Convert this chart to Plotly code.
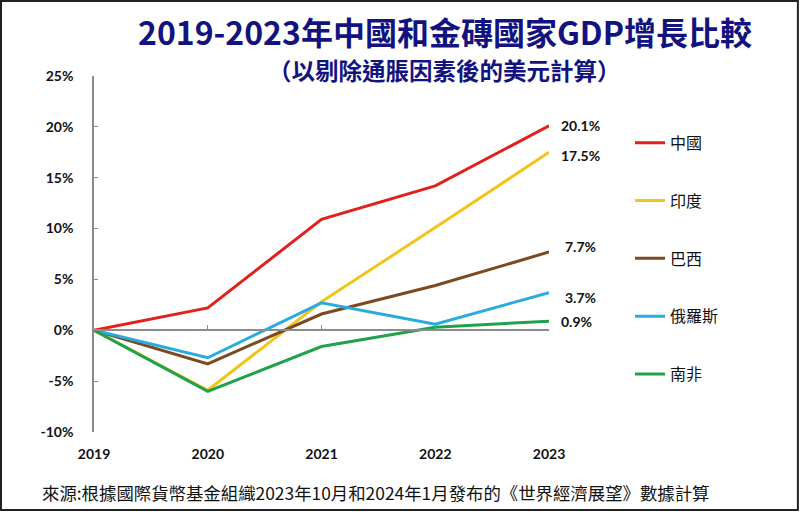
import plotly.graph_objects as go

# -------------------------------------------------
# data: cumulative real GDP growth vs 2019 (%)
# -------------------------------------------------
years = [2019, 2020, 2021, 2022, 2023]
countries = ["中國", "印度", "巴西", "俄羅斯", "南非"]
china = [0, 2.2, 10.9, 14.2, 20.1]
india = [0, -5.9, 2.8, 10.1, 17.5]
brazil = [0, -3.3, 1.6, 4.4, 7.7]
russia = [0, -2.7, 2.7, 0.6, 3.7]
south_africa = [0, -6.0, -1.6, 0.3, 0.9]

y_ticks = [-10, -5, 0, 5, 10, 15, 20, 25]
y_tick_labels = ["-10%", "-5%", "0%", "5%", "10%", "15%", "20%", "25%"]

title = "2019-2023年中國和金磚國家GDP增長比較"
subtitle = "（以剔除通脹因素後的美元計算）"
source = "來源:根據國際貨幣基金組織2023年10月和2024年1月發布的《世界經濟展望》數據計算"

series = [china, india, brazil, russia, south_africa]
colors = ["#e2201c", "#f3c419", "#7b4a20", "#29abe0", "#1fa24b"]
# label nudges (px) for the end-of-line values
label_shift = [(10, 0), (10, -3), (14, 5), (14, -5), (10, 0)]

cjk = "Noto Sans CJK TC"
latin = "Lato"

y_min, y_max = y_ticks[0], y_ticks[-1]

fig = go.Figure()

for name, vals, col in zip(countries, series, colors):
    fig.add_trace(go.Scatter(
        x=years, y=vals, name=name, mode="lines",
        line=dict(color=col, width=3),
        legendgroup=name,
    ))

# dummy trace so the zero-line axis gets drawn
fig.add_trace(go.Scatter(x=years, y=[None] * len(years), xaxis="x2",
                         showlegend=False, hoverinfo="skip"))

# end labels
for vals, (dx, dy) in zip(series, label_shift):
    fig.add_annotation(
        x=years[-1], y=vals[-1], text=f"{vals[-1]:.1f}%",
        showarrow=False, xanchor="left", yanchor="middle",
        xshift=dx, yshift=dy,
        font=dict(family=latin, size=14, color="#111", weight="bold"),
    )

# titles and source
fig.add_annotation(
    xref="paper", yref="paper", x=0.771, y=1.1264, text=title,
    showarrow=False, xanchor="center", yanchor="middle",
    font=dict(family=cjk, size=32, color="#13137f", weight="bold"),
)
fig.add_annotation(
    xref="paper", yref="paper", x=0.771, y=1.0169, text=subtitle,
    showarrow=False, xanchor="center", yanchor="middle",
    font=dict(family=cjk, size=23.5, color="#13137f", weight="bold"),
)
fig.add_annotation(
    xref="paper", yref="paper", x=-0.119, y=-0.171, text=source,
    showarrow=False, xanchor="left", yanchor="middle",
    font=dict(family=cjk, size=17.4, color="#111"),
)

# outer frame
fig.add_shape(type="rect", xref="paper", yref="paper",
              x0=-0.2044, x1=1.547, y0=-0.219, y1=1.2107,
              line=dict(color="#222", width=2), layer="above")

fig.update_layout(
    width=800, height=512,
    margin=dict(l=94, r=251, t=76, b=80),
    paper_bgcolor="white", plot_bgcolor="white",
    showlegend=True,
    legend=dict(
        x=1.178, y=0.86, xanchor="left", yanchor="top",
        font=dict(family=cjk, size=16, color="#111"),
        tracegroupgap=34, itemwidth=30,
        bgcolor="rgba(0,0,0,0)",
    ),
    xaxis=dict(
        range=[years[0], years[-1]], tickvals=years,
        showline=False, showgrid=False, zeroline=False, ticks="",
        ticklabelstandoff=12,
        tickfont=dict(family=latin, size=14, color="#111", weight="bold"),
    ),
    xaxis2=dict(
        overlaying="x", anchor="free",
        position=(0 - y_min) / (y_max - y_min),
        range=[years[0], years[-1]], tickvals=years,
        showticklabels=False, showgrid=False, zeroline=False,
        showline=True, linecolor="#8c8c8c", linewidth=1.5,
        ticks="inside", ticklen=5, tickcolor="#8c8c8c", tickwidth=1,
    ),
    yaxis=dict(
        range=[y_min, y_max], tickvals=y_ticks, ticktext=y_tick_labels,
        showline=True, linecolor="#8c8c8c", linewidth=1.5,
        ticks="inside", ticklen=4, tickcolor="#8c8c8c",
        showgrid=False, zeroline=False,
        ticklabelstandoff=16,
        tickfont=dict(family=latin, size=14, color="#111", weight="bold"),
    ),
)

fig.write_html("out.html", config={"displayModeBar": False},
               post_script="document.body.style.margin='0';")
